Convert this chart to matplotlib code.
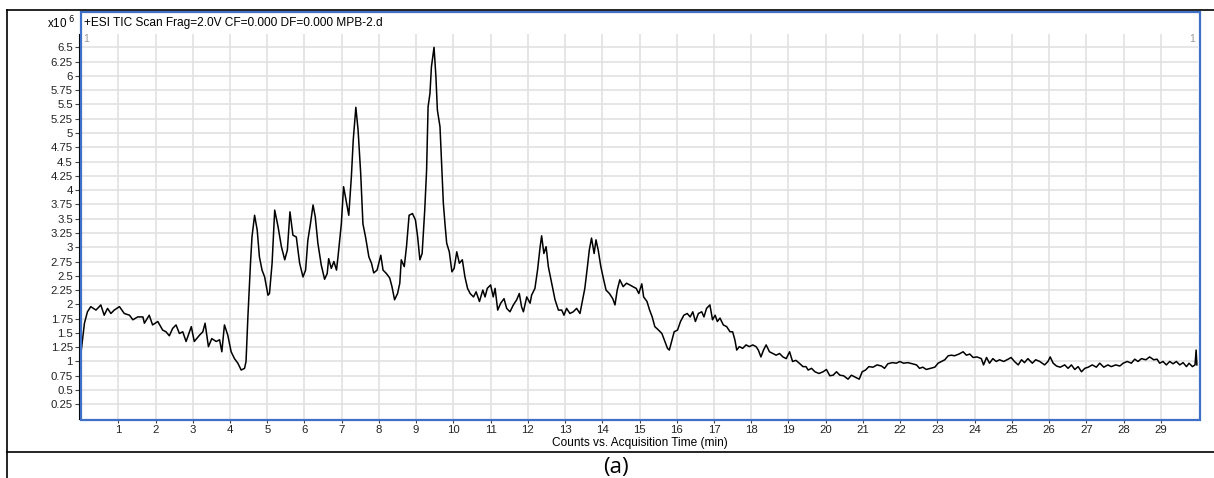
import matplotlib.pyplot as plt
from matplotlib.patches import Rectangle
from matplotlib.lines import Line2D

# TIC trace, acquisition time (min) vs counts (x10^6)
time_min = [
    0.00, 0.05, 0.09, 0.17, 0.26, 0.40, 0.53, 0.62, 0.71, 0.80, 0.89, 1.03, 1.16, 1.30, 1.39,
    1.52, 1.66, 1.70, 1.83, 1.92, 2.06, 2.19, 2.28, 2.37, 2.46, 2.55, 2.64, 2.73, 2.82, 2.96,
    3.04, 3.18, 3.27, 3.33, 3.42, 3.51, 3.63, 3.72, 3.78, 3.85, 3.94, 4.03, 4.12, 4.21, 4.30,
    4.39, 4.43, 4.48, 4.55, 4.59, 4.66, 4.73, 4.79, 4.86, 4.93, 5.02, 5.06, 5.13, 5.20, 5.29,
    5.38, 5.47, 5.54, 5.61, 5.69, 5.78, 5.87, 5.96, 6.03, 6.09, 6.16, 6.23, 6.29, 6.36, 6.45,
    6.54, 6.61, 6.65, 6.72, 6.79, 6.86, 6.90, 6.99, 7.05, 7.13, 7.19, 7.26, 7.31, 7.38, 7.44,
    7.51, 7.57, 7.64, 7.73, 7.80, 7.86, 7.95, 8.05, 8.11, 8.20, 8.29, 8.35, 8.42, 8.50, 8.56,
    8.60, 8.68, 8.74, 8.81, 8.90, 8.98, 9.04, 9.10, 9.16, 9.23, 9.28, 9.32, 9.37, 9.41, 9.48,
    9.53, 9.57, 9.64, 9.69, 9.73, 9.78, 9.82, 9.89, 9.96, 10.02, 10.09, 10.16, 10.24, 10.31,
    10.38, 10.45, 10.54, 10.61, 10.70, 10.79, 10.85, 10.91, 11.00, 11.07, 11.12, 11.19, 11.27,
    11.36, 11.43, 11.52, 11.61, 11.70, 11.77, 11.83, 11.88, 11.97, 12.06, 12.10, 12.19, 12.26,
    12.33, 12.37, 12.43, 12.49, 12.55, 12.64, 12.73, 12.82, 12.91, 12.97, 13.04, 13.13, 13.22,
    13.31, 13.40, 13.47, 13.53, 13.60, 13.65, 13.71, 13.78, 13.83, 13.89, 13.96, 14.03, 14.10,
    14.19, 14.28, 14.34, 14.40, 14.47, 14.56, 14.65, 14.74, 14.82, 14.91, 14.98, 15.06, 15.11,
    15.20, 15.27, 15.34, 15.41, 15.51, 15.60, 15.68, 15.75, 15.80, 15.86, 15.93, 16.02, 16.10,
    16.19, 16.28, 16.36, 16.43, 16.50, 16.58, 16.67, 16.73, 16.80, 16.89, 16.96, 17.03, 17.09,
    17.16, 17.25, 17.34, 17.43, 17.50, 17.56, 17.61, 17.68, 17.77, 17.86, 17.95, 18.04, 18.13,
    18.19, 18.26, 18.33, 18.40, 18.49, 18.58, 18.67, 18.76, 18.85, 18.94, 19.03, 19.11, 19.20,
    19.29, 19.39, 19.47, 19.53, 19.62, 19.71, 19.82, 19.93, 20.02, 20.11, 20.20, 20.29, 20.38,
    20.48, 20.60, 20.69, 20.78, 20.90, 20.98, 21.07, 21.16, 21.27, 21.38, 21.50, 21.58, 21.67,
    21.79, 21.90, 21.99, 22.09, 22.21, 22.33, 22.44, 22.52, 22.61, 22.70, 22.81, 22.93, 23.02,
    23.11, 23.20, 23.29, 23.38, 23.46, 23.58, 23.69, 23.78, 23.87, 23.96, 24.06, 24.18, 24.24,
    24.32, 24.40, 24.49, 24.58, 24.67, 24.78, 24.90, 24.98, 25.07, 25.17, 25.26, 25.34, 25.43,
    25.55, 25.64, 25.75, 25.88, 25.97, 26.03, 26.11, 26.20, 26.30, 26.42, 26.51, 26.60, 26.69,
    26.78, 26.87, 26.96, 27.05, 27.16, 27.27, 27.36, 27.47, 27.58, 27.67, 27.79, 27.90, 27.99,
    28.10, 28.21, 28.30, 28.39, 28.48, 28.60, 28.70, 28.81, 28.90, 28.97, 29.06, 29.15, 29.24,
    29.33, 29.42, 29.51, 29.60, 29.69, 29.76, 29.85, 29.92, 29.95, 29.97,
]
counts = [
    1.17, 1.45, 1.67, 1.87, 1.96, 1.90, 1.99, 1.81, 1.93, 1.84, 1.90, 1.96, 1.84, 1.81, 1.73,
    1.78, 1.78, 1.67, 1.81, 1.64, 1.70, 1.55, 1.52, 1.45, 1.58, 1.64, 1.49, 1.52, 1.35, 1.61,
    1.35, 1.46, 1.52, 1.67, 1.26, 1.40, 1.35, 1.38, 1.17, 1.64, 1.46, 1.17, 1.05, 0.97, 0.85,
    0.88, 1.00, 1.78, 2.72, 3.18, 3.56, 3.30, 2.83, 2.60, 2.48, 2.16, 2.19, 2.72, 3.65, 3.36,
    3.01, 2.78, 2.95, 3.62, 3.21, 3.18, 2.72, 2.48, 2.60, 3.12, 3.41, 3.74, 3.53, 3.07, 2.69,
    2.44, 2.54, 2.80, 2.63, 2.75, 2.60, 2.83, 3.41, 4.06, 3.77, 3.56, 4.24, 4.88, 5.45, 5.05,
    4.29, 3.41, 3.18, 2.83, 2.72, 2.55, 2.60, 2.86, 2.60, 2.54, 2.46, 2.31, 2.08, 2.19, 2.37,
    2.78, 2.66, 3.01, 3.56, 3.59, 3.48, 3.18, 2.78, 2.89, 3.65, 4.35, 5.46, 5.69, 6.16, 6.50,
    5.99, 5.40, 5.11, 4.35, 3.77, 3.36, 3.07, 2.92, 2.57, 2.63, 2.92, 2.72, 2.78, 2.48,
    2.28, 2.19, 2.13, 2.22, 2.05, 2.25, 2.13, 2.28, 2.34, 2.13, 2.28, 1.90, 2.02,
    2.10, 1.93, 1.87, 1.99, 2.08, 2.19, 1.96, 1.87, 2.13, 2.02, 2.16, 2.28, 2.60,
    3.01, 3.20, 2.89, 3.01, 2.66, 2.37, 2.08, 1.90, 1.90, 1.81, 1.93, 1.84, 1.87,
    1.93, 1.84, 2.08, 2.28, 2.66, 2.95, 3.16, 2.89, 3.13, 2.95, 2.66, 2.45, 2.25,
    2.19, 2.10, 1.99, 2.25, 2.43, 2.31, 2.37, 2.34, 2.31, 2.28, 2.19, 2.36, 2.13,
    2.05, 1.90, 1.78, 1.61, 1.55, 1.49, 1.35, 1.23, 1.20, 1.35, 1.52, 1.55, 1.70,
    1.81, 1.84, 1.78, 1.87, 1.70, 1.84, 1.87, 1.78, 1.93, 1.99, 1.73, 1.81, 1.70,
    1.76, 1.64, 1.61, 1.52, 1.52, 1.38, 1.20, 1.26, 1.23, 1.29, 1.26, 1.29, 1.26,
    1.20, 1.08, 1.20, 1.29, 1.17, 1.14, 1.11, 1.14, 1.08, 1.05, 1.17, 1.00, 1.02,
    0.97, 0.91, 0.91, 0.85, 0.88, 0.82, 0.79, 0.82, 0.86, 0.75, 0.76, 0.82, 0.76,
    0.75, 0.69, 0.76, 0.73, 0.69, 0.82, 0.85, 0.91, 0.90, 0.94, 0.92, 0.88, 0.96,
    0.98, 0.97, 1.00, 0.97, 0.98, 0.96, 0.94, 0.88, 0.90, 0.86, 0.88, 0.90, 0.97,
    1.00, 1.03, 1.10, 1.11, 1.10, 1.13, 1.17, 1.11, 1.13, 1.07, 1.08, 1.05, 0.94,
    1.07, 0.97, 1.05, 1.00, 1.03, 1.00, 1.04, 1.07, 1.00, 0.94, 1.03, 0.98, 1.05,
    0.97, 1.03, 1.00, 0.94, 1.00, 1.08, 0.97, 0.92, 0.90, 0.94, 0.88, 0.94, 0.86,
    0.91, 0.82, 0.88, 0.90, 0.94, 0.90, 0.97, 0.90, 0.94, 0.91, 0.94, 0.92, 0.97,
    1.00, 0.97, 1.04, 1.00, 1.05, 1.03, 1.08, 1.03, 1.04, 0.97, 1.00, 0.94, 1.00,
    0.96, 1.00, 0.94, 0.98, 0.91, 0.97, 0.91, 0.94, 1.20, 0.94,
]

x_ticks = list(range(1, 30))
y_ticks = [0.25 * i for i in range(1, 27)]
y_ticklabels = [f"{v:g}" for v in y_ticks]

title_text = "+ESI TIC Scan Frag=2.0V CF=0.000 DF=0.000 MPB-2.d"
x_label = "Counts vs. Acquisition Time (min)"
caption = "(a)"

W, H = 1214, 478
plt.rcParams['font.family'] = ['Liberation Sans', 'DejaVu Sans']

fig = plt.figure(figsize=(W / 100, H / 100), dpi=100)


def fx(x):
    return x / W


def fy(y):
    return 1 - y / H


# plot area in pixel coords: left, top, right, bottom
L, T, R, B = 81.1, 34.0, 1198.0, 418.6
ax = fig.add_axes([fx(L), fy(B), fx(R) - fx(L), fy(T) - fy(B)])
ax.plot(time_min, counts, color='black', lw=1.1)
ax.set_xlim(0, 30)
ax.set_ylim(0, (B - T) / 57.12)

ax.set_xticks(x_ticks)
ax.set_yticks(y_ticks)
ax.set_yticklabels(y_ticklabels)
ax.grid(True, color='#e2e2e2', lw=1.2)
ax.set_axisbelow(True)
ax.tick_params(axis='both', direction='out', length=3, width=0.8, color='#444444',
               labelsize=8.2, labelcolor='#222222', pad=1.5)
for side in ['top', 'right', 'bottom']:
    ax.spines[side].set_visible(False)
ax.spines['left'].set_color('black')
ax.spines['left'].set_linewidth(0.8)
ax.spines['left'].set_position(('outward', 1.5))

# blue frame round the chart
fig.add_artist(Rectangle((fx(80.5), fy(419.5)), fx(1199.5) - fx(80.5), fy(12) - fy(419.5),
                         transform=fig.transFigure, fill=False, ec='#3f6fc6', lw=1.6))
fig.text(fx(84), fy(23), title_text, fontsize=8.6, va='center', ha='left')
fig.text(fx(75), fy(23), r"x10$^{\ 6}$", fontsize=8.4, va='center', ha='right')
fig.text(fx(83), fy(39), "1", fontsize=7.5, color='#999999', va='center', ha='left')
fig.text(fx(1195), fy(39), "1", fontsize=7.5, color='#999999', va='center', ha='right')
fig.text(fx(640), fy(443), x_label, fontsize=8.6, va='center', ha='center')

# table borders
fig.add_artist(Line2D([fx(7), 1], [fy(10), fy(10)], transform=fig.transFigure, color='black', lw=1.2))
fig.add_artist(Line2D([fx(7), 1], [fy(452), fy(452)], transform=fig.transFigure, color='black', lw=1.2))
fig.add_artist(Line2D([fx(7), fx(7)], [fy(10), 0], transform=fig.transFigure, color='black', lw=1.2))
fig.text(fx(616), fy(467.5), caption, fontsize=16, family='Open Sans', va='center', ha='center')

fig.savefig("out.png", dpi=100)
